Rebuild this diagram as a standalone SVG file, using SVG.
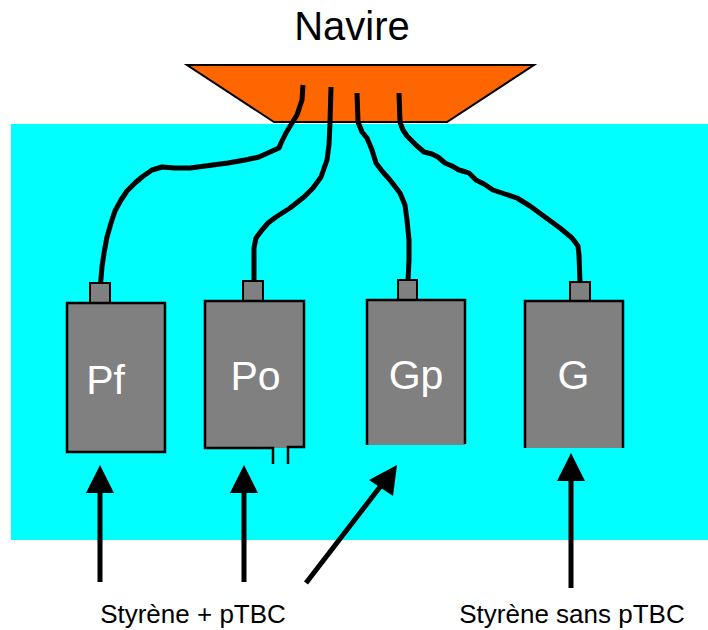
<svg xmlns="http://www.w3.org/2000/svg" width="708" height="630" viewBox="0 0 708 630">
  <style>
    .label { font-family: "Liberation Sans", Arial, sans-serif; fill: #000; }
    .box { fill: #808080; }
    .edge { fill: none; stroke: #000; stroke-width: 2.5; stroke-linejoin: miter; }
    .plug { fill: #808080; stroke: #000; stroke-width: 2; }
    .name { font-family: "Liberation Sans", Arial, sans-serif; font-size: 41px; fill: #fff; text-anchor: middle; }
    .cable { fill: none; stroke: #000; stroke-width: 5; stroke-linejoin: round; stroke-linecap: butt; }
    .shaft { stroke: #000; stroke-width: 5; fill: none; }
    .head { fill: #000; }
  </style>

  <!-- water -->
  <rect x="11" y="124" width="697" height="416" fill="#00FFFF"/>

  <!-- ship hull -->
  <g id="navire">
    <polygon points="187,65 534,65 447,122 274,122" fill="#FF6600" stroke="#000" stroke-width="2"/>
    <text class="label" x="352" y="40" font-size="40" text-anchor="middle">Navire</text>
  </g>

  <!-- cables from hull to devices, and feed arrows -->
  <g id="connectors">
    <polyline class="cable" points="303,85 302,100 297,115 292,123 286,133 281,143 279,148 270,152 259,157 245,160 228,163 190,168 175,168 162,167 152,170 142,177 135,183 127,191 121,200 115,211 111,223 107,237 104,253 102,267 100.5,284"/>
    <polyline class="cable" points="331,87 330,122 329,145 327,160 321,177 313,188 304,197 290,208 276,217 268,223 262,230 256,238 254,248 254,265 254,282"/>
    <polyline class="cable" points="357,93 358,122 362,132 367,138 372,150 376,163 382,171 390,180 400,193 405,205 407,220 409,240 409,260 408,281"/>
    <polyline class="cable" points="399,93 400,122 403,130 407,136 416,145 424,152 432,154 438,157 445,163 452,166 459,170 466,172 469,173 476,180 484,184 493,190 505,194 517,198 530,206 545,217 560,228 572,238 578,246 579,255 580,283"/>

    <line class="shaft" x1="100" y1="582" x2="100" y2="490"/>
    <polygon class="head" points="100,465 114,493 86,493"/>
    <line class="shaft" x1="244" y1="582" x2="244" y2="490"/>
    <polygon class="head" points="244,465 258,493 230,493"/>
    <line class="shaft" x1="306" y1="583" x2="383" y2="483"/>
    <polygon class="head" points="397,465 393,496 369,480"/>
    <line class="shaft" x1="571" y1="588" x2="571" y2="478"/>
    <polygon class="head" points="571,453 585,481 557,481"/>
  </g>

  <!-- devices -->
  <g id="pf">
    <rect class="plug" x="90" y="283" width="20" height="20"/>
    <rect class="box" x="67" y="303" width="98" height="149"/>
    <rect class="edge" x="67" y="303" width="98" height="149"/>
    <text class="name" x="105.5" y="394">Pf</text>
  </g>

  <g id="po">
    <rect class="plug" x="243" y="281" width="20" height="20"/>
    <rect class="box" x="205" y="301" width="99" height="147"/>
    <path class="edge" d="M273,464 L273,448 L205,448 L205,301 L304,301 L304,447 L288,447 L288,464"/>
    <text class="name" x="255.5" y="390">Po</text>
  </g>

  <g id="gp">
    <rect class="plug" x="398" y="280" width="19" height="20"/>
    <rect class="box" x="367" y="300" width="98" height="145"/>
    <path class="edge" d="M367,445 L367,300 L465,300 L465,444"/>
    <text class="name" x="416" y="389">Gp</text>
  </g>

  <g id="g">
    <rect class="plug" x="570" y="282" width="20" height="19"/>
    <rect class="box" x="525" y="301" width="98" height="147"/>
    <path class="edge" d="M525,448 L525,301 L623,301 L623,448"/>
    <text class="name" x="573.5" y="389">G</text>
  </g>

  <!-- feed labels -->
  <g id="feed-labels">
    <text class="label" x="193" y="623" font-size="26" text-anchor="middle">Styrène + pTBC</text>
    <text class="label" x="572" y="623" font-size="26" text-anchor="middle">Styrène sans pTBC</text>
  </g>
</svg>
